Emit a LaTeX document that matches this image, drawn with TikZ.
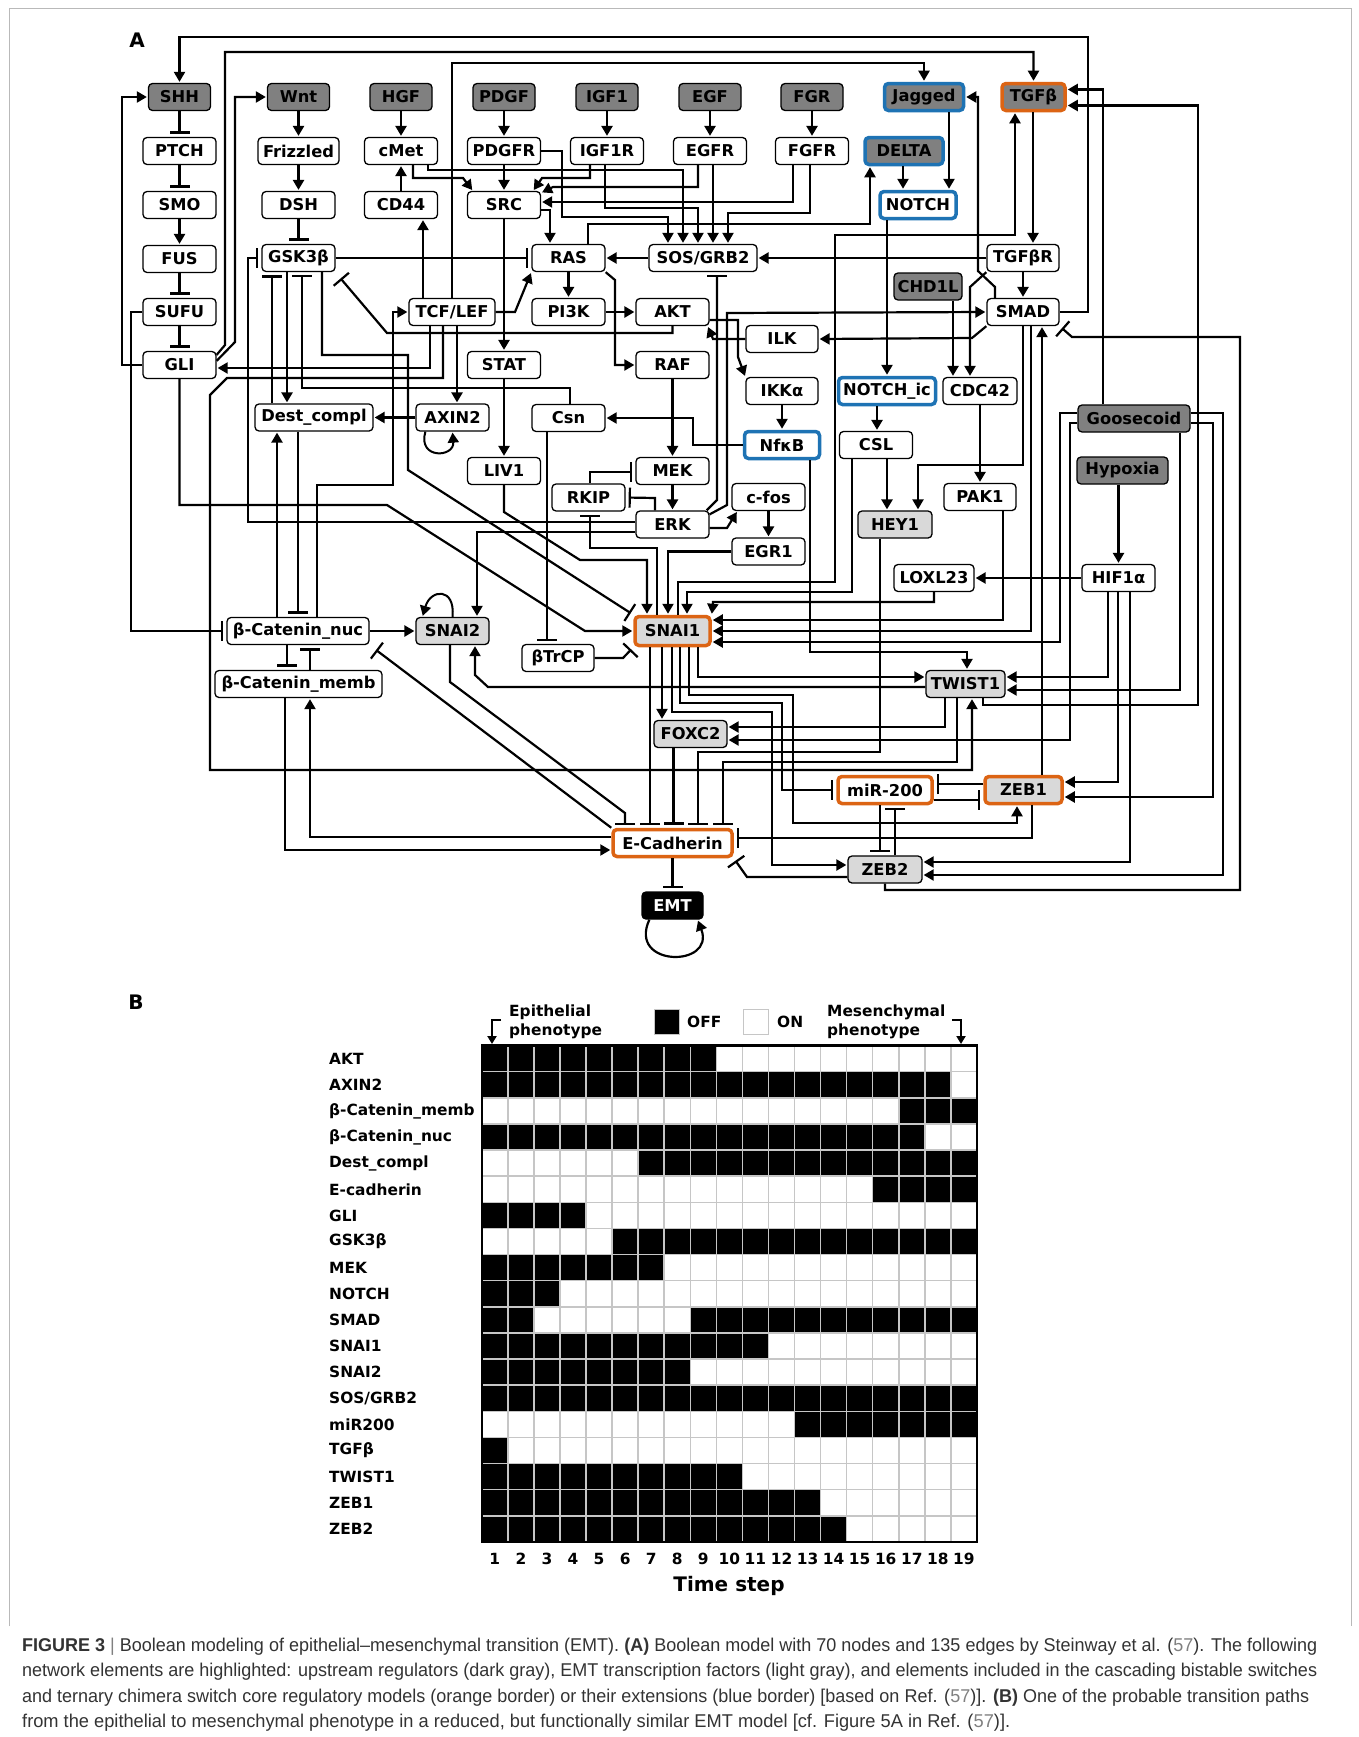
\documentclass[tikz,border=0pt]{standalone}
\usepackage{fontspec}
\usetikzlibrary{arrows.meta}
\newfontfamily\nf{DejaVu Sans}
\newfontfamily\cf{Liberation Sans}
\definecolor{dkg}{HTML}{808080}
\definecolor{ltg}{HTML}{D9D9D9}
\definecolor{orb}{HTML}{DC6414}
\definecolor{blb}{HTML}{1E73B4}
\newlength\fitw
\newcommand\fitline[2]{\settowidth\fitw{#2}\pgfmathsetmacro\fitr{#1/\fitw}\scalebox{\fitr}[1]{#2}}
\newcommand\lbf{\nf\bfseries\fontsize{15.4}{18}\selectfont}
\newcommand\N[6]{\node[nb,#5,minimum width=#4pt] (#1) at (#2,#3) {#6};}
\newcommand\blk[3]{\fill[black] ({481.8+(#2-1)*26.06},{1045.6+(#1-1)*26.12}) rectangle ({481.8+#3*26.06},{1045.6+#1*26.12});}
\tikzset{
 nb/.style={draw=black,line width=1.3pt,rounded corners=4pt,fill=white,minimum height=27pt,inner sep=0pt,font=\nf\bfseries\fontsize{16.3}{18}\selectfont},
 ndark/.style={fill=dkg},
 nlight/.style={fill=ltg},
 norange/.style={draw=orb,line width=3.5pt},
 nblue/.style={draw=blb,line width=3.5pt},
 act/.style={line width=2.2pt,-{Triangle[length=10pt,width=11pt]},shorten >=1pt},
 inh/.style={line width=2.2pt,-{Bar[width=20pt]},shorten >=3pt},
 tk/.style={line width=2.8pt},
 captext/.style={anchor=west,font=\cf\fontsize{18.5}{20}\selectfont,text=black!80,inner sep=0pt},
}
\begin{document}
\begin{tikzpicture}[x=1pt,y=-1pt]
\fill[white] (0,0) rectangle (1359,1737);
\useasboundingbox (0,0) rectangle (1359,1737);
\draw[gray!55,line width=1pt] (9,1626) -- (9,9) -- (1351,9) -- (1351,1626);
\node[font=\nf\bfseries\fontsize{20}{24}\selectfont] (labA) at (137,40) {A};
\node[font=\nf\bfseries\fontsize{20}{24}\selectfont] (labB) at (136,1002) {B};
% ---------------- nodes
\N{SHH}{179.5}{97}{62}{ndark}{SHH}
\N{Wnt}{298.5}{97}{62}{ndark}{Wnt}
\N{HGF}{401}{97}{62}{ndark}{HGF}
\N{PDGF}{504}{97}{62}{ndark}{PDGF}
\N{IGF1}{607}{97}{62}{ndark}{IGF1}
\N{EGF}{710}{97}{62}{ndark}{EGF}
\N{FGR}{812}{97}{62}{ndark}{FGR}
\N{Jag}{924}{97}{79}{ndark,nblue}{Jagged}
\N{TGFb}{1033.5}{97}{63}{ndark,norange}{TGFβ}
\N{PTCH}{179.5}{151}{73}{}{PTCH}
\N{Friz}{298.5}{151}{81}{}{Frizzled}
\N{cMet}{401}{151}{73}{}{cMet}
\N{PDGFR}{504}{151}{73}{}{PDGFR}
\N{IGF1R}{607}{151}{73}{}{IGF1R}
\N{EGFR}{710}{151}{73}{}{EGFR}
\N{FGFR}{812}{151}{73}{}{FGFR}
\N{DELTA}{904}{151}{78}{ndark,nblue}{DELTA}
\N{SMO}{179.5}{205}{73}{}{SMO}
\N{DSH}{298.5}{205}{73}{}{DSH}
\N{CD44}{401}{205}{73}{}{CD44}
\N{SRC}{504}{205}{73}{}{SRC}
\N{NOTCH}{918}{205}{76}{nblue}{NOTCH}
\N{FUS}{179.5}{259}{73}{}{FUS}
\N{GSK}{298.5}{258}{73}{}{GSK3β}
\N{RAS}{568.5}{258}{73}{}{RAS}
\N{SOS}{703}{258}{108}{}{SOS/GRB2}
\N{TGFbR}{1023}{258}{72}{}{TGFβR}
\N{CHD1L}{928}{286.5}{68}{ndark}{CHD1L}
\N{SUFU}{179.5}{312}{73}{}{SUFU}
\N{TCF}{452}{312}{86}{}{TCF/LEF}
\N{PI3K}{568.5}{312}{73}{}{PI3K}
\N{AKT}{672.5}{312}{73}{}{AKT}
\N{SMAD}{1023}{312}{72}{}{SMAD}
\N{ILK}{782}{339}{72}{}{ILK}
\N{GLI}{179.5}{365}{73}{}{GLI}
\N{STAT}{504}{365}{73}{}{STAT}
\N{RAF}{672.5}{365}{73}{}{RAF}
\N{IKK}{782}{391}{72}{}{IKKα}
\N{NOTCHic}{887}{391}{97}{nblue}{NOTCH\_ic}
\N{CDC42}{980}{391}{74}{}{CDC42}
\N{Dest}{314}{417.5}{118}{}{Dest\_compl}
\N{AXIN2}{452.5}{417.5}{73}{}{AXIN2}
\N{Csn}{568.5}{418}{73}{}{Csn}
\N{Goose}{1134}{418.5}{112}{ndark}{Goosecoid}
\N{NfkB}{782}{445}{75}{nblue}{NfκB}
\N{CSL}{876}{445}{73}{}{CSL}
\N{LIV1}{504}{471}{73}{}{LIV1}
\N{MEK}{672.5}{471}{73}{}{MEK}
\N{Hyp}{1122.5}{470.5}{91}{ndark}{Hypoxia}
\N{RKIP}{588.5}{497.5}{73}{}{RKIP}
\N{cfos}{768.5}{497}{73}{}{c-fos}
\N{PAK1}{980}{497}{72}{}{PAK1}
\N{ERK}{672.5}{524.5}{73}{}{ERK}
\N{HEY1}{895}{524.5}{74}{nlight}{HEY1}
\N{EGR1}{768.5}{551.5}{73}{}{EGR1}
\N{LOXL}{934}{578}{80}{}{LOXL23}
\N{HIF}{1118.5}{578}{73}{}{HIF1α}
\N{bcn}{298}{631}{142}{}{β-Catenin\_nuc}
\N{SNAI2}{452.5}{631}{73}{nlight}{SNAI2}
\N{SNAI1}{672.5}{631}{75}{nlight,norange,minimum height=29pt}{SNAI1}
\N{bTrCP}{558}{658}{72}{}{βTrCP}
\N{bcm}{298.5}{684}{167}{}{β-Catenin\_memb}
\N{TWIST1}{965.5}{684}{79}{nlight}{TWIST1}
\N{FOXC2}{690.5}{734}{73}{nlight}{FOXC2}
\N{miR}{885}{790}{94}{norange}{miR-200}
\N{ZEB1}{1023.5}{790}{77}{nlight,norange}{ZEB1}
\N{Ecad}{672.5}{843}{119}{norange}{E-Cadherin}
\N{ZEB2}{885}{869.5}{74}{nlight}{ZEB2}
\N{EMT}{672.5}{905.5}{61}{fill=black,text=white}{EMT}
% ---------------- straight edges
\draw[inh,tk] (SHH.south) -- (PTCH.north);
\draw[inh,tk] (PTCH.south) -- (SMO.north);
\draw[act,tk] (SMO.south) -- (FUS.north);
\draw[inh,tk] (FUS.south) -- (SUFU.north);
\draw[inh,tk] (SUFU.south) -- (GLI.north);
\draw[act,tk] (Wnt.south) -- (Friz.north);
\draw[act,tk] (Friz.south) -- (DSH.north);
\draw[inh,tk] (DSH.south) -- (GSK.north);
\draw[act,tk] (HGF.south) -- (cMet.north);
\draw[act,tk] (CD44.north) -- (cMet.south);
\draw[act,tk] (PDGF.south) -- (PDGFR.north);
\draw[act,tk] (IGF1.south) -- (IGF1R.north);
\draw[act,tk] (EGF.south) -- (EGFR.north);
\draw[act,tk] (FGR.south) -- (FGFR.north);
\draw[act,tk] (PDGFR.south) -- (SRC.north);
\draw[act,tk] (SRC.south) -- (STAT.north);
\draw[act,tk] (STAT.south) -- (LIV1.north);
\draw[act,tk] (SOS.west) -- (RAS.east);
\draw[act,tk] (TGFbR.west) -- (SOS.east);
\draw[inh,tk] (GSK.east) -- (RAS.west);
\draw[act,tk] (RAS.south) -- (PI3K.north);
\draw[act,tk] (PI3K.east) -- (AKT.west);
\draw[act,tk] (RAF.south) -- (MEK.north);
\draw[act,tk] (MEK.south) -- (ERK.north);
\draw[act,tk] (cfos.south) -- (EGR1.north);
\draw[act,tk] (IKK.south) -- (NfkB.north);
\draw[act,tk] (AXIN2.west) -- (Dest.east);
\draw[act,tk] (HIF.west) -- (LOXL.east);
\draw[act,tk] ([xshift=-4pt]Hyp.south) -- (HIF.north);
\draw[act,tk] (bcn.east) -- (SNAI2.west);
\draw[act,tk] (TGFbR.south) -- (SMAD.north);
\draw[act,tk] ([xshift=-0.5pt]TGFb.south) -- ([xshift=10pt]TGFbR.north);
\draw[act,tk] (CDC42.south) -- (PAK1.north);
\draw[inh,tk] (Ecad.south) -- (EMT.north);
\draw[act,tk] ([xshift=25pt]Jag.south) -- ([xshift=31pt]NOTCH.north);
\draw[act,tk] ([xshift=-1pt]DELTA.south) -- ([xshift=-15pt]NOTCH.north);
\draw[act,tk] ([xshift=-31pt]NOTCH.south) -- (NOTCHic.north);
\draw[act,tk] ([xshift=-10pt]NOTCHic.south) -- ([xshift=1pt]CSL.north);
\draw[act,tk] ([xshift=11pt]CSL.south) -- ([xshift=-8pt]HEY1.north);
\draw[act,tk] ([xshift=25pt]CHD1L.south) -- ([xshift=-27pt]CDC42.north);
\draw[act,tk] ([xshift=-29pt]TCF.north) -- ([xshift=22pt]CD44.south);
\draw[act,tk] ([xshift=3pt]EGFR.south) -- ([xshift=10pt]SOS.north);
\draw[act,tk] ([xshift=5pt]TCF.south) -- ([xshift=4.5pt]AXIN2.north);
% beta-catenin block
\draw[act,tk] ([xshift=-21pt]bcn.north) -- ([xshift=-37pt]Dest.south);
\draw[inh,tk] ([xshift=-16pt]Dest.south) -- (bcn.north);
\draw[inh,tk] ([xshift=-42pt]Dest.north) -- ([xshift=-26.5pt]GSK.south);
\draw[act,tk] ([xshift=-11.5pt]GSK.south) -- ([xshift=-27pt]Dest.north);
\draw[inh,tk] ([xshift=-11pt]bcn.south) -- ([xshift=-11.5pt]bcm.north);
\draw[inh,tk] ([xshift=11.5pt]bcm.north) -- ([xshift=12pt]bcn.south);
\draw[act] ([xshift=19pt]bcn.north) -- (317,485) -- (393,485) |- (TCF.west);
\draw[inh] ([xshift=1.5pt]Csn.north) -- (570,388) -- (302,388) -- ([xshift=3.5pt]GSK.south);
\draw[inh] ([xshift=23.5pt]GSK.south) -- (322,355) -- (408,355) -- (408,470) -- (SNAI1.north west);
\draw[act] (GLI.south) -- (179.5,505) -- (387,505) -- (585,631) -- (SNAI1.west);
\draw[act] ([xshift=-22pt]TCF.south) -- (430,368) -- ([yshift=-3pt]GLI.east);
\draw[act] (TCF.east) -- (515,312) -- (RAS.south west);
\draw[inh] (AKT.south) -- (672.5,333) -- (387,333) -- ([xshift=3pt,yshift=-4pt]GSK.south east);
\draw[inh] ([yshift=2.5pt]ERK.west) -- (248,522) |- (GSK.west);
\draw[act] ([yshift=-7.5pt]ERK.west) -- (477,532) -- ([xshift=24.5pt]SNAI2.north);
% top long lines
\draw[act] (SMAD.east) -- (1088,312) -- (1088,37) -| (SHH.north);
\draw[act] ([yshift=-4pt]GLI.north east) -- (225,345) -- (225,52) -| (TGFb.north);
\draw[act] ([yshift=-10pt]GLI.north east) -- (235,342) |- (Wnt.west);
\draw[act] (GLI.west) -- (122,365) |- (SHH.west);
\draw[act] (TCF.north) -- (452,63) -| (Jag.north);
\draw[inh] (SUFU.west) -- (131,312) |- (bcn.west);
% receptors
\draw[act] ([xshift=12pt]cMet.south) -- (413,178) -- (463,178) -- ([xshift=6pt]SRC.north west);
\draw[act] ([xshift=27pt]cMet.south) -- (428,170) -- (683,170) -- ([xshift=-20pt]SOS.north);
\draw[act] (PDGFR.east) -- (562,151) -- (562,217) -- (668,217) -- ([xshift=-35pt]SOS.north);
\draw[act] ([xshift=-17pt]IGF1R.south) -- (590,178) -- (542,178) -- ([xshift=-8pt]SRC.north east);
\draw[act] ([xshift=-2pt]IGF1R.south) -- (605,208) -- (698,208) -- ([xshift=-5pt]SOS.north);
\draw[act] ([xshift=-12pt]EGFR.south) -- (698,187) -- (553,187) -- ([yshift=-2pt]SRC.north east);
\draw[act] ([xshift=-19pt]FGFR.south) -- (793,202) -- ([yshift=3pt]SRC.east);
\draw[act] ([xshift=-2pt]FGFR.south) -- (810,213) -- (728,213) -- ([xshift=25pt]SOS.north);
\draw[act] ([yshift=-5pt]SRC.east) -- (550,210) -- ([xshift=-18.5pt]RAS.north);
\draw[act] ([xshift=19.5pt]RAS.north) -- (588,224) -- (870,224) -- ([xshift=-34pt]DELTA.south);
\draw[act] ([xshift=5.5pt]SNAI1.north) -- (678,582) -- (835,582) -- (835,235) -- (1015,235) -- ([xshift=-18.5pt]TGFb.south);
\draw[act] (RAS.south east) -- (615,280) -- (615,365) -- (RAF.west);
% MAPK area
\draw[inh] ([xshift=1.5pt]RKIP.north) -- (590,472) -- ([yshift=-1pt]MEK.west);
\draw[inh] ([xshift=-17.5pt]ERK.north) -- (655,498) -- (RKIP.east);
\draw[inh] ([xshift=-15.5pt]SNAI1.north) -- (657,548) -- (590,548) -- ([xshift=1.5pt]RKIP.south);
\draw[act] (LIV1.south) -- (504,512) -- (580,560) -- (647,560) -- ([xshift=-25.5pt]SNAI1.north);
\draw[act] (EGR1.west) -- (668,551.5) -- ([xshift=-4.5pt]SNAI1.north);
\draw[act] ([xshift=-24pt]CSL.south) -- (852,592) -- (687,592) -- ([xshift=14.5pt]SNAI1.north);
\draw[act] ([yshift=-3.5pt]ERK.east) -- (727,528) -- ([xshift=6pt]cfos.south west);
\draw[inh] ([xshift=-3pt]ERK.north east) -- (717,500) -- ([xshift=14pt]SOS.south);
\draw[act] ([yshift=-4pt]ERK.north east) -- (727,505) -- (727,313) -- (SMAD.west);
\draw[act] ([yshift=-8pt]AKT.east) -- (738,320) -- (738,357) -- (IKK.north west);
\draw[act] (ILK.west) -- (713,339) -- ([xshift=-2pt]AKT.south east);
\draw[act] (NfkB.west) -- (693,445) -- (693,418) -- (Csn.east);
\draw[inh] ([xshift=-21.5pt]Csn.south) -- ([xshift=-11pt]bTrCP.north);
\draw[inh] (bTrCP.east) -- (623,658) -- (SNAI1.south west);
% TGF / SMAD area
\draw[act] ([xshift=-31pt]Goose.north) |- ([yshift=7.5pt]TGFb.east);
\draw[act] ([xshift=17.5pt]TWIST1.south) -- (983,705) -- (1198,705) |- ([yshift=-8.5pt]TGFb.east);
\draw[inh] (ZEB2.south) -- (885,890) -- (1240,890) -- (1240,337) -- (1072,337) -- (SMAD.south east);
\draw[act] ([xshift=-28pt]SMAD.north) -- (995,287) -- (978,271) |- (Jag.east);
\draw[act] (TGFbR.south west) -- (970,287) -- ([xshift=-10pt]CDC42.north);
\draw[act] (SMAD.south west) -- (972,338) -- (ILK.east);
\draw[act] ([xshift=18.5pt]ZEB1.north) -- ([xshift=19pt]SMAD.south);
\draw[act] (SMAD.south) -- (1023,465) -| ([xshift=23pt]HEY1.north);
\draw[act] ([xshift=8pt]SMAD.south) |- (SNAI1.east);
\draw[act] ([xshift=23pt]PAK1.south) |- ([yshift=11pt]SNAI1.east);
\draw[act] (LOXL.south) -- (934,602) -- (713,602) -- (SNAI1.north east);
\draw[act] ([yshift=5.5pt]Goose.west) -- (1060,413) |- ([yshift=-11pt]SNAI1.east);
\draw[act] ([yshift=-4.5pt]Goose.west) -- (1070,423) |- ([yshift=-6pt]FOXC2.east);
\draw[act] ([yshift=5.5pt]Goose.east) -- (1223,413) |- ([yshift=-5.5pt]ZEB2.east);
\draw[act] ([yshift=-4.5pt]Goose.east) -- (1213,423) |- ([yshift=-7pt]ZEB1.east);
\draw[act] ([xshift=46pt]Goose.south) |- ([yshift=-6pt]TWIST1.east);
\draw[act] ([xshift=-10.5pt]HIF.south) |- ([yshift=7pt]TWIST1.east);
\draw[act] ([xshift=-0.5pt]HIF.south) |- ([yshift=8pt]ZEB1.east);
\draw[act] ([xshift=11.5pt]HIF.south) |- ([yshift=7.5pt]ZEB2.east);
% TWIST1 / SNAI
\draw[act] ([xshift=-20.5pt]TWIST1.south) |- ([yshift=7pt]FOXC2.east);
\draw[inh] ([xshift=-8.5pt]TWIST1.south) -- (957,762) -| ([xshift=50.5pt]Ecad.north);
\draw[act] ([xshift=-9pt]TCF.south) -- (443,378) -- (227,378) -- (210,395) -- (210,770) -| ([xshift=6.5pt]TWIST1.south);
\draw[act] ([xshift=28pt]NfkB.south) -- (810,652) -| ([xshift=1.5pt]TWIST1.north);
\draw[act] ([xshift=25.5pt]SNAI1.south) -- (698,677) -- ([yshift=7pt]TWIST1.west);
\draw[act] ([yshift=-3pt]TWIST1.west) -- (488,687) -- (475,675) -- ([xshift=22.5pt]SNAI2.south);
\draw[inh] ([xshift=-22.5pt]SNAI1.south) -- ([xshift=-22.5pt]Ecad.north);
\draw[act] ([xshift=-10.5pt]SNAI1.south) -- ([xshift=-28.5pt]FOXC2.north);
\draw[act] ([xshift=-0.5pt]SNAI1.south) -- (672,712) -- (772,712) |- ([yshift=4.5pt]ZEB2.west);
\draw[inh] ([xshift=7.5pt]SNAI1.south) -- (680,703) -- (782,703) |- (miR.west);
\draw[act] ([xshift=16.5pt]SNAI1.south) -- (689,695) -- (793,695) -- (793,823) -| ([xshift=-6.5pt]ZEB1.south);
\draw[inh,tk] ([xshift=-17pt]FOXC2.south) -- ([xshift=1pt]Ecad.north);
\draw[inh] ([xshift=-15pt]HEY1.south) -- (880,752) -| ([xshift=25.5pt]Ecad.north);
\draw[inh] ([xshift=-2.5pt]SNAI2.south) -- (450,682) -- (625,813) -- ([xshift=-47.5pt]Ecad.north);
\draw[inh] (Ecad.north west) -- ([xshift=4pt,yshift=-3pt]bcn.south east);
\draw[act] ([xshift=-13.5pt]bcm.south) -- (285,850) -- ([yshift=-7pt]Ecad.west);
\draw[act] ([yshift=6pt]Ecad.west) -- (310,837) -- ([xshift=11.5pt]bcm.south);
\draw[inh] ([xshift=8.5pt]ZEB1.south) -- (1032,838) -- ([yshift=5pt]Ecad.east);
\draw[inh] ([yshift=-7.5pt]ZEB2.west) -- (747,877) -- (Ecad.south east);
\draw[inh] ([yshift=6pt]ZEB1.west) -- ([yshift=6pt]miR.east);
\draw[inh] ([yshift=-10pt]miR.east) -- ([yshift=-10pt]ZEB1.west);
\draw[inh] ([xshift=-5pt]miR.south) -- ([xshift=-5pt]ZEB2.north);
\draw[inh] ([xshift=10pt]ZEB2.north) -- ([xshift=10pt]miR.south);
% self loops
\draw[act] ([xshift=8pt]EMT.south west) .. controls +(-22,48) and +(18,48) .. ([xshift=-6pt]EMT.south east);
\draw[act,line width=2pt] ([xshift=10pt]AXIN2.south west) .. controls +(-8,28) and +(2,26) .. (AXIN2.south);
\draw[act,line width=2pt] (SNAI2.north) .. controls +(3,-30) and +(8,-28) .. ([xshift=-30pt]SNAI2.north);
% ---------------- Part B
\blk{1}{1}{9}
\blk{2}{1}{18}
\blk{3}{17}{19}
\blk{4}{1}{17}
\blk{5}{7}{19}
\blk{6}{16}{19}
\blk{7}{1}{4}
\blk{8}{6}{19}
\blk{9}{1}{7}
\blk{10}{1}{3}
\blk{11}{1}{2}
\blk{11}{9}{19}
\blk{12}{1}{11}
\blk{13}{1}{8}
\blk{14}{1}{19}
\blk{15}{13}{19}
\blk{16}{1}{1}
\blk{17}{1}{10}
\blk{18}{1}{13}
\blk{19}{1}{14}
\foreach \i in {1,...,18} {
  \draw[gray!45,line width=1.5pt] ({481.8+\i*26.06},1045.6) -- ({481.8+\i*26.06},1541.8);
  \draw[gray!45,line width=1.5pt] (481.8,{1045.6+\i*26.12}) -- (976.9,{1045.6+\i*26.12});
}
\draw[line width=2.5pt] (481.8,1045.6) rectangle (976.9,1541.8);
\foreach \lab [count=\r] in {AKT,AXIN2,β-Catenin\_memb,β-Catenin\_nuc,Dest\_compl,E-cadherin,GLI,GSK3β,MEK,NOTCH,SMAD,SNAI1,SNAI2,SOS/GRB2,miR200,TGFβ,TWIST1,ZEB1,ZEB2}
  \node[anchor=west,font=\lbf,inner sep=0pt] (row\r) at (329,{1045.6+(\r-0.5)*26.12}) {\lab};
\foreach \c in {1,...,19}
  \node[font=\lbf,inner sep=0pt] (col\c) at ({481.8+(\c-0.5)*26.06},1559) {\c};
\node[font=\nf\bfseries\fontsize{20}{24}\selectfont] (tstep) at (729,1586) {Time step};
\node[anchor=west,font=\lbf,inner sep=0pt] (ep1) at (509,1012) {Epithelial};
\node[anchor=west,font=\lbf,inner sep=0pt] (ep2) at (509,1031) {phenotype};
\node[anchor=west,font=\lbf,inner sep=0pt] (me1) at (827,1012) {Mesenchymal};
\node[anchor=west,font=\lbf,inner sep=0pt] (me2) at (827,1031) {phenotype};
\node[draw=gray!45,line width=1.5pt,fill=black,minimum width=25pt,minimum height=25pt,inner sep=0pt] (offbox) at (667,1022) {};
\node[anchor=west,font=\lbf,inner sep=0pt] (offt) at (687,1022) {OFF};
\node[draw=gray!45,line width=1.5pt,fill=white,minimum width=25pt,minimum height=25pt,inner sep=0pt] (onbox) at (756,1022) {};
\node[anchor=west,font=\lbf,inner sep=0pt] (ont) at (777,1022) {ON};
\coordinate (la1) at (501,1020);
\coordinate (la2) at (492,1044);
\coordinate (ra1) at (952,1020);
\coordinate (ra2) at (961,1044);
\draw[line width=2pt,-{Triangle[length=8pt,width=9pt]}] (la1) -- (la1 -| la2) -- (la2);
\draw[line width=2pt,-{Triangle[length=8pt,width=9pt]}] (ra1) -- (ra1 -| ra2) -- (ra2);
% ---------------- caption
\node[captext] (c1) at (22,1647) {\fitline{1295}{\textbf{FIGURE 3} {\color{gray}|} Boolean modeling of epithelial–mesenchymal transition (EMT). \textbf{(A)} Boolean model with 70 nodes and 135 edges by Steinway et al. ({\color{gray}57}). The following}};
\node[captext] (c2) at (22,1672) {\fitline{1295}{network elements are highlighted: upstream regulators (dark gray), EMT transcription factors (light gray), and elements included in the cascading bistable switches}};
\node[captext] (c3) at (22,1698) {\fitline{1287}{and ternary chimera switch core regulatory models (orange border) or their extensions (blue border) [based on Ref. ({\color{gray}57})]. \textbf{(B)} One of the probable transition paths}};
\node[captext] (c4) at (22,1723) {\fitline{988}{from the epithelial to mesenchymal phenotype in a reduced, but functionally similar EMT model [cf. Figure 5A in Ref. ({\color{gray}57})].}};
\end{tikzpicture}
\end{document}
